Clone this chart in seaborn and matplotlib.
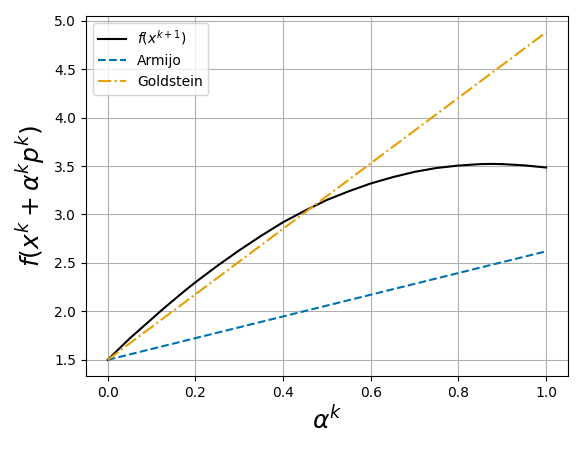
import matplotlib
matplotlib.use("Agg")
import matplotlib.pyplot as plt
import seaborn as sns
import pandas as pd

alpha = [0.0, 0.025, 0.05, 0.075, 0.1, 0.125, 0.15, 0.175, 0.2, 0.25, 0.3, 0.35, 0.4, 0.45, 0.5,
         0.55, 0.6, 0.65, 0.7, 0.75, 0.8, 0.85, 0.875, 0.9, 0.95, 1.0]
f_vals = [1.5, 1.61, 1.72, 1.82, 1.92, 2.02, 2.115, 2.21, 2.30, 2.47, 2.63, 2.78, 2.92, 3.04, 3.15,
          3.24, 3.32, 3.385, 3.44, 3.48, 3.505, 3.52, 3.522, 3.52, 3.507, 3.485]
line_alpha = [0.0, 1.0]
armijo = [1.5, 2.62]
goldstein = [1.5, 4.88]

fig, ax = plt.subplots(figsize=(5.83, 4.49), dpi=100)
sns.lineplot(x=alpha, y=f_vals, ax=ax, color="black", label=r"$f(x^{k+1})$")
sns.lineplot(x=line_alpha, y=armijo, ax=ax, color="#0072B2", linestyle="--", label="Armijo")
sns.lineplot(x=line_alpha, y=goldstein, ax=ax, color="#E69F00", linestyle="-.", label="Goldstein")
ax.grid(True, color="#b0b0b0")
ax.set_xlabel(r"$\alpha^k$", fontsize=18)
ax.set_ylabel(r"$f(x^k + \alpha^k p^k)$", fontsize=18)
ax.set_yticks([1.5, 2.0, 2.5, 3.0, 3.5, 4.0, 4.5, 5.0])
ax.legend(loc="upper left")
fig.tight_layout()
fig.savefig("out.png", dpi=100)
